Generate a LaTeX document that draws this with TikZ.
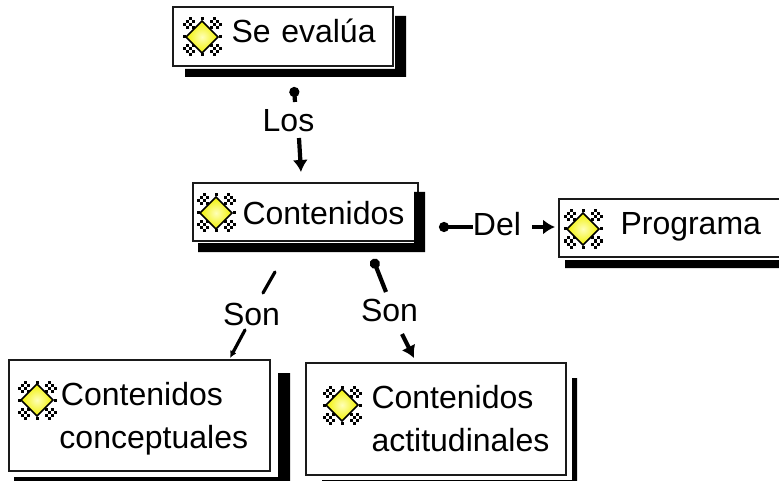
\documentclass[tikz,border=0pt]{standalone}
\usepackage{fontspec}
\setmainfont{Liberation Sans}
\usepackage{tikz}
\usetikzlibrary{arrows.meta, positioning, calc}
\usepackage{xcolor}
\definecolor{gemyellow}{HTML}{F0F000}
\definecolor{gemglow}{HTML}{FFFFB8}
\definecolor{boxline}{HTML}{1A1A1A}

\begin{document}
\begin{tikzpicture}[
    x=1pt, y=-1pt,
    conceptbox/.style={
        draw=boxline, line width=2.6pt, rectangle, align=left,
        inner sep=0pt, outer sep=0pt,
        font=\fontsize{32}{43}\selectfont
    },
    linklabel/.style={
        inner sep=0pt, text height=22pt, text depth=0pt,
        font=\fontsize{32}{37}\selectfont
    },
    link/.style={line width=4.2pt},
    thinlink/.style={line width=3.2pt, line cap=round},
    dotlink/.style={link, {Circle[length=10pt]}-},
    arrowlink/.style={link, -{Latex[length=12pt, width=15pt]}},
    smallarrow/.style={thinlink, -{Latex[length=7pt, width=7pt]}},
    shadowfill/.style={fill=black},
    gem/.pic={
        \foreach \sgnx in {-1,1}
            \foreach \sgny in {-1,1}
                \foreach \u/\v in {3/3,3/5,5/3,4/4,4/6,6/4,5/5}
                    \fill ({\sgnx*\u*3-1.5},{\sgny*\v*3-1.5}) rectangle ++(3,3);
        \foreach \u/\v in {0/6,0/-6,6/0,-6/0}
            \fill ({\u*3-1.5},{\v*3-1.5}) rectangle ++(3,3);
        \path[draw=black, line width=1.6pt, shade, inner color=gemglow, outer color=gemyellow]
            (16,0) -- (0,16) -- (-16,0) -- (0,-16) -- cycle;
    }
]
    \clip (0,0) rectangle (779,481);
    \node[conceptbox, text width=220pt, text height=36pt, text depth=23pt] (evalua) at (283,36.5)
        {\hspace*{58.5pt}Se evalúa};
    \node[conceptbox, text width=225pt, text height=42pt, text depth=16pt, below=117pt of evalua, xshift=22.5pt] (contenidos)
        {\hspace*{49.5pt}Contenidos};
    \node[conceptbox, text width=226pt, text height=36pt, text depth=22pt, right=141pt of contenidos, yshift=-16pt] (programa)
        {\hspace*{61.5pt}Programa};
    \node[conceptbox, text width=261pt, text height=45pt, text depth=66pt, below=119pt of contenidos, xshift=-166pt] (conceptuales)
        {\hspace*{52pt}Contenidos\\\hspace*{50.5pt}conceptuales};
    \node[conceptbox, text width=260pt, text height=45pt, text depth=67pt, below=122pt of contenidos, xshift=130.5pt] (actitudinales)
        {\hspace*{65.5pt}Contenidos\\\hspace*{65.5pt}actitudinales};

    \foreach \l/\t/\r/\b/\w/\h in {185/16/406/77/11/8, 198/192/425/252/11/9, 565/260/800/268/0/8,
                                   14/373/290/481/12/4, 322/378/577/481/5/1}
        \fill[shadowfill] (\r-\w,\t) -- (\r,\t) -- (\r,\b) -- (\l,\b) -- (\l,\b-\h) -- (\r-\w,\b-\h) -- (\r-\w,\t) -- cycle;

    \pic at (202,37) {gem};
    \pic at (216,213) {gem};
    \pic at (583,229) {gem};
    \pic at (37,400) {gem};
    \pic at (342,405) {gem};

    \node[linklabel] (los) at (288.5,121) {Los};
    \node[linklabel] (sonconcept) at (251.5,314) {Son};
    \node[linklabel] (sonactitud) at (389.5,310.5) {Son};
    \node[linklabel] (del) at (497,225) {Del};

    \draw[dotlink] ($(evalua.south)+(11,21)$) -- ($(los)+(6.5,-19)$);
    \draw[arrowlink] ($(los)+(10.5,17)$) -- ($(contenidos.north)+(-4.5,-11)$);
    \draw[thinlink] ($(contenidos.south)+(-30.5,31)$) -- ($(sonconcept)+(11.5,-21)$);
    \draw[smallarrow] ($(sonconcept)+(-6.5,16)$) -- ($(conceptuales.north)+(90.5,-2)$);
    \draw[dotlink] ($(contenidos.south)+(67.5,18)$) -- ($(sonactitud)+(-3.5,-18.5)$);
    \draw[arrowlink] ($(sonactitud)+(12.5,23.5)$) -- ($(actitudinales.north)+(-22,-5)$);
    \draw[dotlink, line width=3.4pt] ($(contenidos.east)+(21,15)$) -- ($(del)+(-24,2)$);
    \draw[arrowlink] ($(del)+(35,2)$) -- ($(programa.west)+(-4,-1)$);
\end{tikzpicture}
\end{document}
